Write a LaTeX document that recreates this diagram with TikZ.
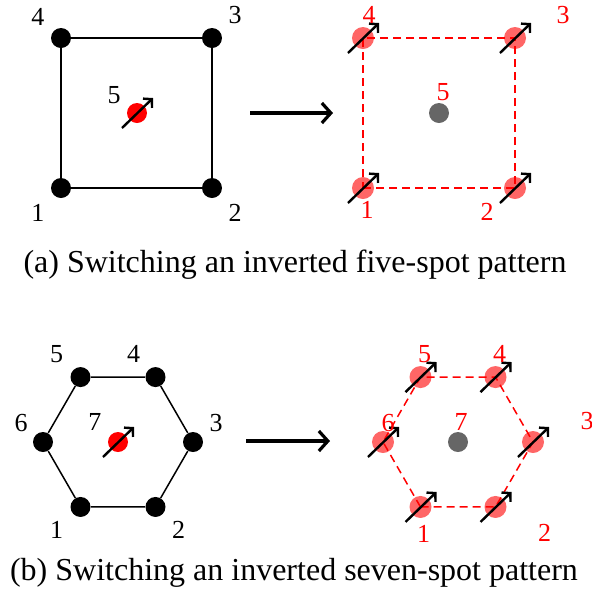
\documentclass[tikz,border=0pt]{standalone}
\usepackage{fontspec}
\setmainfont{Liberation Serif}
\usetikzlibrary{calc,arrows.meta}

\begin{document}
\begin{tikzpicture}[x=0.5pt,y=-0.5pt,
  site/.style={circle,inner sep=0pt,minimum size=10pt,fill=black},
  hot/.style={circle,inner sep=0pt,minimum size=10pt,fill=red},
  spun/.style={circle,inner sep=0pt,minimum size=11pt,fill=red,fill opacity=0.6},
  off/.style={circle,inner sep=0pt,minimum size=10pt,fill=black!60},
  num/.style={font=\fontsize{13}{15}\selectfont,inner sep=0pt},
  rednum/.style={num,text=red},
  spin/.style={line width=1.2pt,-{Straight Barb[length=3pt,width=6.5pt]}},
  wall/.style={line width=0.75pt},
  ghost/.style={red,line width=0.75pt,dash pattern=on 4pt off 2.5pt},
  switch/.style={line width=1.6pt,-{Straight Barb[length=4.5pt,width=10pt]}},
  caption/.style={font=\fontsize{16}{19}\selectfont,inner sep=0pt,anchor=base}]
  \useasboundingbox (0,0) rectangle (591,601);
  \newcommand{\spinon}[1]{%
    \draw[spin] ($(#1)+(-15,15)$) -- ($(#1)+(16,-15)$);%
  }

  % (a) inverted five-spot, before switching
  \node[site] (a1) at (61,188) {};
  \node[site] (a2) at (212,188) {};
  \node[site] (a3) at (212,38) {};
  \node[site] (a4) at (61,38) {};
  \draw[wall] (a1) -- (a2) -- (a3) -- (a4) -- (a1);
  \node[hot] (a5) at (137,113) {};
  \spinon{a5}
  \foreach \n/\dx/\dy in {1/-23/25,2/23/25,3/23/-23,4/-23/-21,5/-23/-18}
    \node[num] at ($(a\n)+(\dx,\dy)$) {\n};

  \coordinate (ta) at (250,113);
  \coordinate (tb) at (333,113);
  \draw[switch] (ta) -- (tb);

  % (a) after switching
  \foreach \n/\x/\y in {1/363/188,2/515/188,3/515/38,4/363/38}
    \coordinate (b\n) at (\x,\y);
  \draw[ghost] (b1) -- (b2) -- (b3) -- (b4) -- cycle;
  \foreach \n in {1,...,4}{%
    \node[spun] (s\n) at (b\n) {};
    \spinon{s\n}
  }
  \node[off] (s5) at (439,113) {};
  \foreach \n/\dx/\dy in {1/4/22,2/-28/24,3/48/-23,4/6/-23,5/4/-21}
    \node[rednum] at ($(s\n)+(\dx,\dy)$) {\n};

  \node[caption] (capa) at (295,272) {(a) Switching an inverted five-spot pattern};

  % (b) inverted seven-spot, before switching
  \coordinate (hc) at (118,442);
  \foreach \k in {1,...,6}
    \node[site] (h\k) at ($(hc)+({180-60*\k}:75)$) {};
  \draw[wall] (h1) -- (h2) -- (h3) -- (h4) -- (h5) -- (h6) -- (h1);
  \node[hot] (h7) at (hc) {};
  \spinon{h7}
  \foreach \n/\dx/\dy in {1/-24/23,2/23/23,3/23/-19,4/-22/-23,5/-24/-23,6/-22/-19,7/-23/-20}
    \node[num] at ($(h\n)+(\dx,\dy)$) {\n};

  \coordinate (tc) at (246,441);
  \coordinate (td) at (330,441);
  \draw[switch] (tc) -- (td);

  % (b) after switching
  \coordinate (gc) at (458,442);
  \foreach \k in {1,...,6}
    \coordinate (g\k) at ($(gc)+({180-60*\k}:75)$);
  \draw[ghost] (g1) -- (g2) -- (g3) -- (g4) -- (g5) -- (g6) -- cycle;
  \foreach \k in {1,...,6}{%
    \node[spun] (r\k) at (g\k) {};
    \spinon{r\k}
  }
  \node[off] (r7) at (gc) {};
  \foreach \n/\dx/\dy in {1/3/27,2/49/26,3/54/-21,4/4/-23,5/4/-23,6/5/-19,7/3/-20}
    \node[rednum] at ($(r\n)+(\dx,\dy)$) {\n};

  \node[caption] (capb) at (294,580) {(b) Switching an inverted seven-spot pattern};
\end{tikzpicture}
\end{document}
